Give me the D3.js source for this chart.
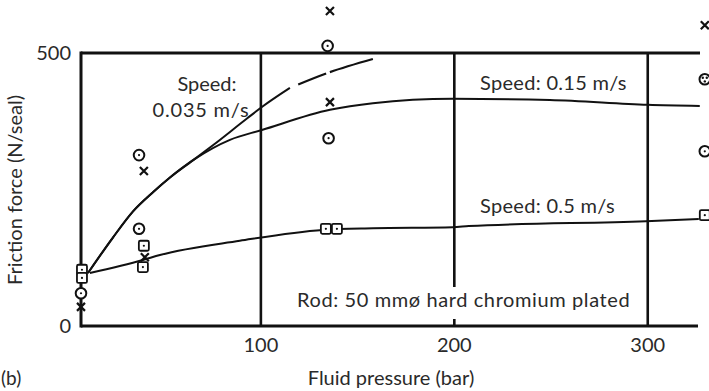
<!DOCTYPE html>
<html><head><meta charset="utf-8">
<script src="https://cdn.jsdelivr.net/npm/d3@7"></script>
<style>
html,body{margin:0;padding:0;background:#fff;}
svg{display:block;}
text{font-family:Lato,"Open Sans",sans-serif;fill:#2a2a2a;}
</style></head>
<body>
<svg id="c" width="709" height="391"></svg>
<script>
// ---- data ----
const xTicks = [100, 200, 300];
const yTicks = [0, 500];
// Curve: speed 0.15 m/s (solid)
const curve015 = [[10.6,97],[23.5,162],[33.9,210],[44.2,245],[53,272],[65.9,306],[84,341],[100.5,359],[135.7,396],[157.9,408],[199.2,416],[249.4,414],[300,405],[326.9,403]];
// Curve: speed 0.035 m/s (solid part then dashed extrapolation)
const curve0035Solid = [[10.6,97],[23.5,162],[33.9,210],[44.2,245],[53,272],[65.9,306],[75.2,331],[92.8,380],[100.5,401],[115,436]];
const curve0035Dashed = [[115,436],[135.7,465],[157.9,489]];
// Curve: speed 0.5 m/s
const curve05 = [[11.6,97],[39,121],[47.8,130],[89.1,156],[132,176],[158,179],[199.2,181],[207.5,183],[299,192],[326.4,196]];
// Measured points by symbol
const crossPts = [[7,35],[40,126],[39.5,284],[135.7,577],[135.7,410],[329.5,551]];
const circlePts = [[7,60],[37,178],[37,313],[134.5,513],[135,344],[329.5,320]];
const squarePts = [[7.5,103],[7.5,88],[39.5,147],[39,108],[133.6,178],[139.3,178],[329.5,203]];
const otimesPts = [[329.5,452]];

const labels = {
  yTitle: "Friction force (N/seal)",
  xTitle: "Fluid pressure (bar)",
  s0035a: "Speed:", s0035b: "0.035 m/s",
  s015: "Speed: 0.15 m/s", s05: "Speed: 0.5 m/s",
  rod: "Rod: 50 mmø hard chromium plated", panel: "(b)"
};

// ---- drawing ----
const svg = d3.select("#c");
const x = d3.scaleLinear().domain([7, 326.5]).range([81, 699]);
const y = d3.scaleLinear().domain([0, 500]).range([326, 53]);
const ink = "#111";
const FS = 20;

// grid verticals
svg.selectAll(".vg").data(xTicks).enter().append("line")
  .attr("x1", d => x(d)).attr("x2", d => x(d))
  .attr("y1", y(500)).attr("y2", y(0))
  .attr("stroke", ink).attr("stroke-width", 2.6);

// frame lines
svg.append("line").attr("x1", x(7)).attr("x2", 700).attr("y1", y(500)).attr("y2", y(500)).attr("stroke", ink).attr("stroke-width", 3);
svg.append("line").attr("x1", x(7)).attr("x2", 698).attr("y1", y(0)).attr("y2", y(0)).attr("stroke", ink).attr("stroke-width", 3);
svg.append("line").attr("x1", x(7)).attr("x2", x(7)).attr("y1", y(500)-1.5).attr("y2", y(0)+1.5).attr("stroke", ink).attr("stroke-width", 3);

// Rod label box (white) covering the grid line
const rodG = svg.append("g");
rodG.append("rect").attr("x", 292).attr("y", 287).attr("width", 346).attr("height", 32).attr("fill", "#fff");
rodG.append("text").attr("x", 297).attr("y", 307).attr("font-size", FS).attr("letter-spacing", 0.6).text(labels.rod);

// curves
const line = d3.line().x(d => x(d[0])).y(d => y(d[1])).curve(d3.curveMonotoneX);
svg.append("path").attr("d", line(curve015)).attr("fill", "none").attr("stroke", ink).attr("stroke-width", 2);
svg.append("path").attr("d", line(curve0035Solid)).attr("fill", "none").attr("stroke", ink).attr("stroke-width", 2);
svg.append("path").attr("d", line(curve0035Dashed)).attr("fill", "none").attr("stroke", ink).attr("stroke-width", 2.2).attr("stroke-dasharray", "0,9,30,4,60");
svg.append("path").attr("d", line(curve05)).attr("fill", "none").attr("stroke", ink).attr("stroke-width", 2);

// markers
const mk = svg.append("g").attr("fill", "none").attr("stroke", ink).attr("stroke-width", 1.8);
crossPts.forEach(p => {
  const cx = x(p[0]), cy = y(p[1]), r = 4;
  mk.append("path").attr("d", `M${cx-r},${cy-r}L${cx+r},${cy+r}M${cx-r},${cy+r}L${cx+r},${cy-r}`).attr("stroke-width", 2.2);
});
circlePts.forEach(p => {
  const cx = x(p[0]), cy = y(p[1]);
  mk.append("circle").attr("cx", cx).attr("cy", cy).attr("r", 5.3).attr("fill", "#fff").attr("stroke-width", 2);
  mk.append("circle").attr("cx", cx).attr("cy", cy).attr("r", 1.1).attr("fill", ink).attr("stroke", "none");
});
squarePts.forEach(p => {
  const cx = x(p[0]), cy = y(p[1]);
  mk.append("rect").attr("x", cx-5).attr("y", cy-5).attr("width", 10).attr("height", 10).attr("rx", 1.5).attr("fill", "#fff");
  mk.append("circle").attr("cx", cx).attr("cy", cy).attr("r", 1.1).attr("fill", ink).attr("stroke", "none");
});
otimesPts.forEach(p => {
  const cx = x(p[0]), cy = y(p[1]);
  mk.append("circle").attr("cx", cx).attr("cy", cy).attr("r", 5.3).attr("fill", "#fff").attr("stroke-width", 2);
  [[-2,-1.5],[2,-1.5],[0,2.2]].forEach(o => mk.append("circle").attr("cx", cx+o[0]).attr("cy", cy+o[1]).attr("r", 1.2).attr("fill", ink).attr("stroke", "none"));
});

// tick labels
svg.selectAll(".xt").data(xTicks).enter().append("text")
  .attr("x", d => x(d)).attr("y", 352).attr("text-anchor", "middle").attr("font-size", FS).text(d => d);
svg.selectAll(".yt").data(yTicks).enter().append("text")
  .attr("x", 71).attr("y", d => y(d) + 7).attr("text-anchor", "end").attr("font-size", FS).text(d => d);

// titles
svg.append("text").attr("x", 391).attr("y", 385).attr("text-anchor", "middle").attr("font-size", FS).text(labels.xTitle);
svg.append("text").attr("transform", "translate(22,190) rotate(-90)").attr("text-anchor", "middle").attr("font-size", FS).text(labels.yTitle);
svg.append("text").attr("x", 1).attr("y", 385).attr("font-size", 19).text(labels.panel);

// speed labels
svg.append("text").attr("x", 207).attr("y", 91).attr("text-anchor", "middle").attr("font-size", FS).text(labels.s0035a);
svg.append("text").attr("x", 201).attr("y", 117).attr("text-anchor", "middle").attr("font-size", FS).attr("letter-spacing", 0.8).text(labels.s0035b);
svg.append("text").attr("x", 480).attr("y", 90).attr("font-size", FS).attr("letter-spacing", 0.3).text(labels.s015);
svg.append("text").attr("x", 480).attr("y", 213).attr("font-size", FS).attr("letter-spacing", 0.3).text(labels.s05);
</script>
</body></html>
